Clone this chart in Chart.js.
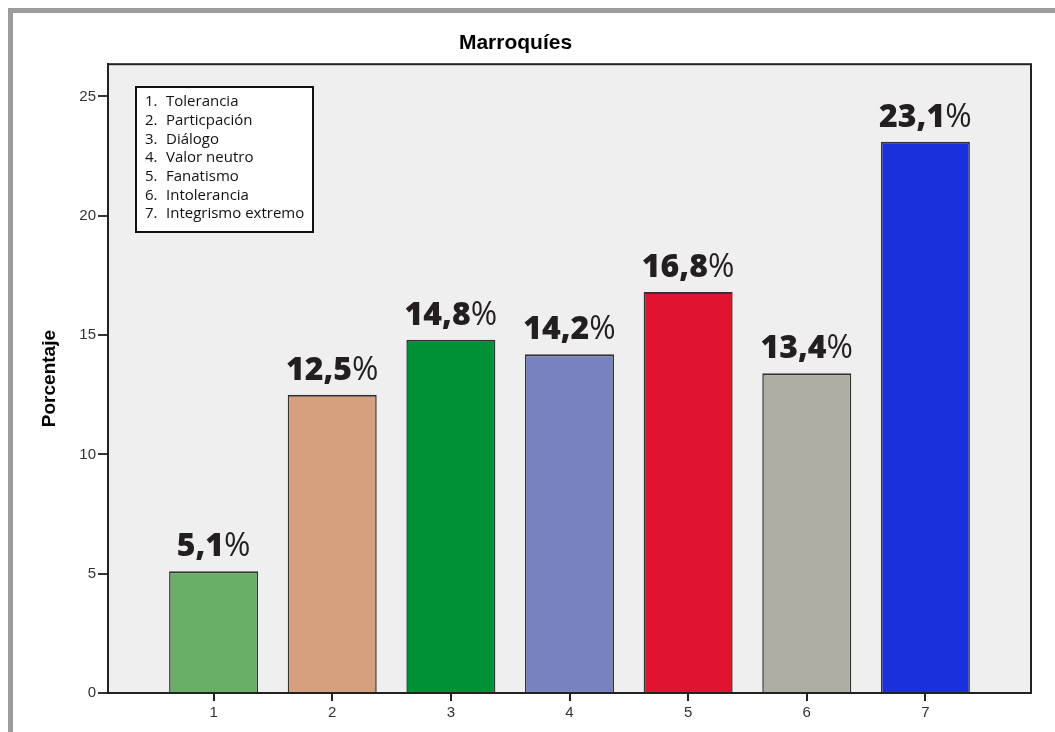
<!DOCTYPE html>
<html>
<head>
<meta charset="utf-8">
<script src="https://cdn.jsdelivr.net/npm/chart.js@4/dist/chart.umd.min.js"></script>
<style>
  html, body { margin: 0; padding: 0; background: #ffffff; }
  #wrap { position: relative; width: 1055px; height: 732px; overflow: hidden; }
  #wrap canvas { position: absolute; left: 0; top: 0; }
  .frame { position: absolute; background: #9c9c9c; }
</style>
</head>
<body>
<div id="wrap">
  <canvas id="chart" width="1055" height="732"></canvas>
  <div class="frame" style="left:8px; top:8px; width:1047px; height:5px;"></div>
  <div class="frame" style="left:8px; top:8px; width:5px; height:724px;"></div>
</div>
<script>
// Response categories (x positions) and their names for the key box
const categories = [1, 2, 3, 4, 5, 6, 7];
const categoryNames = [
  'Tolerancia',
  'Particpación',
  'Diálogo',
  'Valor neutro',
  'Fanatismo',
  'Intolerancia',
  'Integrismo extremo'
];
// Percentage of respondents per category
const percentages = [5.1, 12.5, 14.8, 14.2, 16.8, 13.4, 23.1];
const barColors = ['#69af67', '#d6a07e', '#009035', '#7882bf', '#e01430', '#afaea5', '#1a30dc'];
const yTicks = [0, 5, 10, 15, 20, 25];

const formatPct = v => v.toFixed(1).replace('.', ',');

// Grey plot background and dark frame around the plotting area
const plotFrame = {
  id: 'plotFrame',
  beforeDatasetsDraw(chart) {
    const { ctx, chartArea: a } = chart;
    ctx.save();
    ctx.fillStyle = '#efefef';
    ctx.fillRect(a.left, a.top, a.right - a.left, a.bottom - a.top);
    ctx.restore();
  },
  afterDraw(chart) {
    const { ctx, chartArea: a } = chart;
    ctx.save();
    ctx.strokeStyle = '#222222';
    ctx.lineWidth = 2;
    ctx.strokeRect(a.left, a.top, a.right - a.left, a.bottom - a.top);
    ctx.restore();
  }
};

// Value labels above each bar: heavy number, regular percent sign
const valueLabels = {
  id: 'valueLabels',
  afterDatasetsDraw(chart) {
    const { ctx } = chart;
    const meta = chart.getDatasetMeta(0);
    ctx.save();
    ctx.fillStyle = '#231f20';
    ctx.textBaseline = 'alphabetic';
    meta.data.forEach((bar, i) => {
      const num = formatPct(percentages[i]);
      const boldFont = '800 32px "Open Sans", sans-serif';
      const regFont = '32px "Open Sans", sans-serif';
      ctx.font = boldFont;
      const wNum = ctx.measureText(num).width;
      ctx.font = regFont;
      const wPct = ctx.measureText('%').width;
      const x0 = bar.x - (wNum + wPct) / 2;
      const y = bar.y - 15;
      ctx.textAlign = 'left';
      ctx.font = boldFont;
      ctx.fillText(num, x0, y);
      ctx.font = regFont;
      ctx.fillText('%', x0 + wNum, y);
    });
    ctx.restore();
  }
};

// Key box listing the category names
const keyBox = {
  id: 'keyBox',
  afterDraw(chart) {
    const { ctx } = chart;
    const left = 136, top = 87, w = 177, h = 145;
    ctx.save();
    ctx.fillStyle = '#ffffff';
    ctx.fillRect(left, top, w, h);
    ctx.strokeStyle = '#111111';
    ctx.lineWidth = 2;
    ctx.strokeRect(left, top, w, h);
    ctx.fillStyle = '#111111';
    ctx.font = '15px "Open Sans", sans-serif';
    ctx.textBaseline = 'middle';
    ctx.textAlign = 'left';
    categoryNames.forEach((name, i) => {
      const y = top + 15 + i * 18.7;
      ctx.fillText(categories[i] + '.', left + 9, y);
      ctx.fillText(name, left + 30, y);
    });
    ctx.restore();
  }
};

new Chart(document.getElementById('chart'), {
  type: 'bar',
  data: {
    datasets: [{
      data: categories.map((c, i) => ({ x: c, y: percentages[i] })),
      backgroundColor: barColors,
      borderColor: '#333333',
      borderWidth: { top: 2, left: 1.5, right: 1.5, bottom: 0 },
      borderSkipped: false,
      categoryPercentage: 1,
      barPercentage: 0.75
    }]
  },
  options: {
    responsive: false,
    animation: false,
    devicePixelRatio: 1,
    layout: { padding: { left: 0, right: 24, top: 0, bottom: 0 } },
    plugins: {
      legend: { display: false },
      tooltip: { enabled: false },
      title: {
        display: true,
        text: 'Marroquíes',
        color: '#000000',
        font: { family: 'Arial, "Liberation Sans", sans-serif', size: 21, weight: 'bold', lineHeight: 1.2 },
        padding: { top: 31, bottom: 8 }
      }
    },
    scales: {
      x: {
        type: 'linear',
        min: 0.11,
        max: 7.89,
        offset: false,
        afterBuildTicks(scale) {
          scale.ticks = categories.map(v => ({ value: v }));
        },
        afterFit(scale) { scale.height = 39; },
        grid: { offset: false, drawOnChartArea: false, drawTicks: true, tickLength: 8, color: '#222222', lineWidth: 2 },
        border: { display: true, color: '#222222', width: 2 },
        ticks: {
          color: '#333333',
          padding: 3,
          font: { family: 'Arial, "Liberation Sans", sans-serif', size: 15 },
          callback: v => String(v)
        }
      },
      y: {
        min: 0,
        max: 26.35,
        afterBuildTicks(scale) {
          scale.ticks = yTicks.map(v => ({ value: v }));
        },
        afterFit(scale) { scale.width = 108; },
        grid: { drawOnChartArea: false, drawTicks: true, tickLength: 10, color: '#333333', lineWidth: 2 },
        border: { display: true, color: '#222222', width: 2 },
        ticks: {
          color: '#333333',
          padding: 2,
          font: { family: 'Arial, "Liberation Sans", sans-serif', size: 15 }
        },
        title: {
          display: true,
          text: 'Porcentaje',
          color: '#000000',
          font: { family: 'Arial, "Liberation Sans", sans-serif', size: 19, weight: 'bold', lineHeight: 1.2 },
          padding: { top: 38, bottom: 0 }
        }
      }
    }
  },
  plugins: [plotFrame, valueLabels, keyBox]
});
</script>
</body>
</html>
